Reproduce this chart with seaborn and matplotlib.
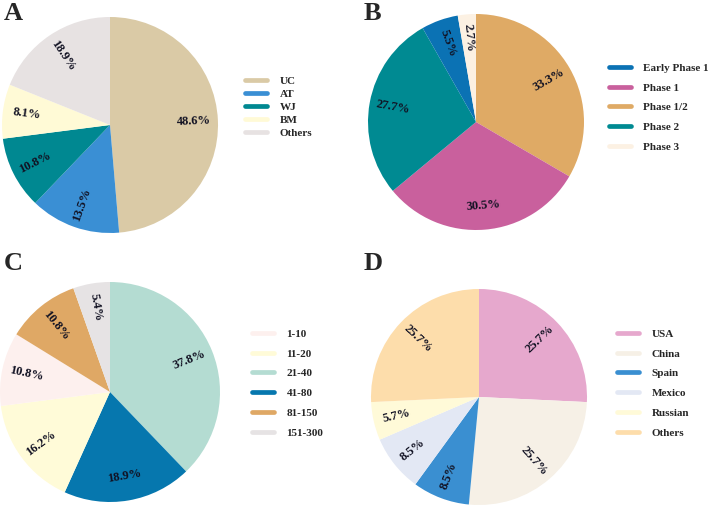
import matplotlib
matplotlib.use("Agg")
import matplotlib.pyplot as plt
import seaborn as sns
import numpy as np
from matplotlib.lines import Line2D

sns.set_theme(style="white")
plt.rcParams['font.family'] = ['Liberation Serif', 'DejaVu Serif']
plt.rcParams['font.weight'] = 'bold'

# ---- data (pie order = clockwise from 12 o'clock) ----
a_labels = ["UC", "AT", "WJ", "BM", "Others"]
a_values = [48.6, 13.5, 10.8, 8.1, 18.9]
a_colors = ["#DACAA6", "#3A8FD4", "#008891", "#FFFAD6", "#E7E2E2"]
a_legend = ["UC", "AT", "WJ", "BM", "Others"]

b_labels = ["Phase 1/2", "Phase 1", "Phase 2", "Early Phase 1", "Phase 3"]
b_values = [33.3, 30.5, 27.7, 5.5, 2.7]
b_colors = ["#DFAA65", "#C9609D", "#008A92", "#0B72B4", "#FCF1E3"]
b_legend = ["Early Phase 1", "Phase 1", "Phase 1/2", "Phase 2", "Phase 3"]

c_labels = ["21-40", "41-80", "11-20", "1-10", "81-150", "151-300"]
c_values = [37.8, 18.9, 16.2, 10.8, 10.8, 5.4]
c_colors = ["#B4DCD2", "#0677AE", "#FFFBD8", "#FDF0EE", "#DFA865", "#E6E3E4"]
c_legend = ["1-10", "11-20", "21-40", "41-80", "81-150", "151-300"]

d_labels = ["USA", "China", "Spain", "Mexico", "Russian", "Others"]
d_values = [25.7, 25.7, 8.5, 8.5, 5.7, 25.7]
d_colors = ["#E6A8CD", "#F6F0E6", "#3A8FD1", "#E3E8F4", "#FFFAD8", "#FDDDAB"]
d_legend = ["USA", "China", "Spain", "Mexico", "Russian", "Others"]

W, H = 709, 505
fig = plt.figure(figsize=(W / 100, H / 100), dpi=100)
fig.patch.set_facecolor("white")


def px_axes(cx, cy, r):
    # cy measured from top of figure
    return fig.add_axes([(cx - r) / W, (H - cy - r) / H, 2 * r / W, 2 * r / H])


def draw_pie(ax, values, colors, labels, legend_order, leg_xy, spacing, letter, letter_xy):
    total = sum(values)
    pct = iter(values)
    wedges, texts, autotexts = ax.pie(
        values, colors=colors, startangle=90, counterclock=False,
        autopct=lambda p: f"{next(pct):.1f}%", pctdistance=0.78,
        wedgeprops=dict(linewidth=0),
        textprops=dict(fontsize=9, fontweight="bold", color="#111122"),
    )
    # rotate labels along the radius, flatten those near the bottom
    cum = 0
    for v, t in zip(values, autotexts):
        mid = 90 - (cum + v / 2) / total * 360
        cum += v
        mid = (mid + 180) % 360 - 180
        if abs(mid + 90) < 15:
            rot = mid + 90
        elif -90 <= mid <= 90:
            rot = mid
        else:
            rot = mid - 180 if mid > 0 else mid + 180
        t.set_rotation(rot)
        t.set_rotation_mode("anchor")
        t.set_ha("center")
        t.set_va("center")
    ax.set_xlim(-1, 1)
    ax.set_ylim(-1, 1)
    ax.axis("off")

    cmap = dict(zip(labels, colors))
    handles = [Line2D([0], [0], color=cmap[l], lw=3.4) for l in legend_order]
    fig.legend(handles, legend_order, loc="upper left",
               bbox_to_anchor=(leg_xy[0] / W, 1 - leg_xy[1] / H),
               frameon=False, handlelength=2.0, handletextpad=1.1,
               labelspacing=spacing, borderpad=0, borderaxespad=0,
               prop=dict(weight="bold", size=8))
    fig.text(letter_xy[0] / W, 1 - letter_xy[1] / H, letter, fontsize=19,
             fontweight="bold", ha="left", va="baseline")


axA = px_axes(110, 125, 108)
draw_pie(axA, a_values, a_colors, a_labels, a_legend, (245, 76), 0.3, "A", (4, 20))

axB = px_axes(476, 122, 108)
draw_pie(axB, b_values, b_colors, b_labels, b_legend, (609, 63), 0.9, "B", (364, 20))

axC = px_axes(110, 392, 110)
draw_pie(axC, c_values, c_colors, c_labels, c_legend, (252, 329), 0.9, "C", (4, 270))

axD = px_axes(479, 397, 108)
draw_pie(axD, d_values, d_colors, d_labels, d_legend, (617, 329), 0.9, "D", (364, 270))

fig.savefig("out.png", dpi=100, facecolor="white")
